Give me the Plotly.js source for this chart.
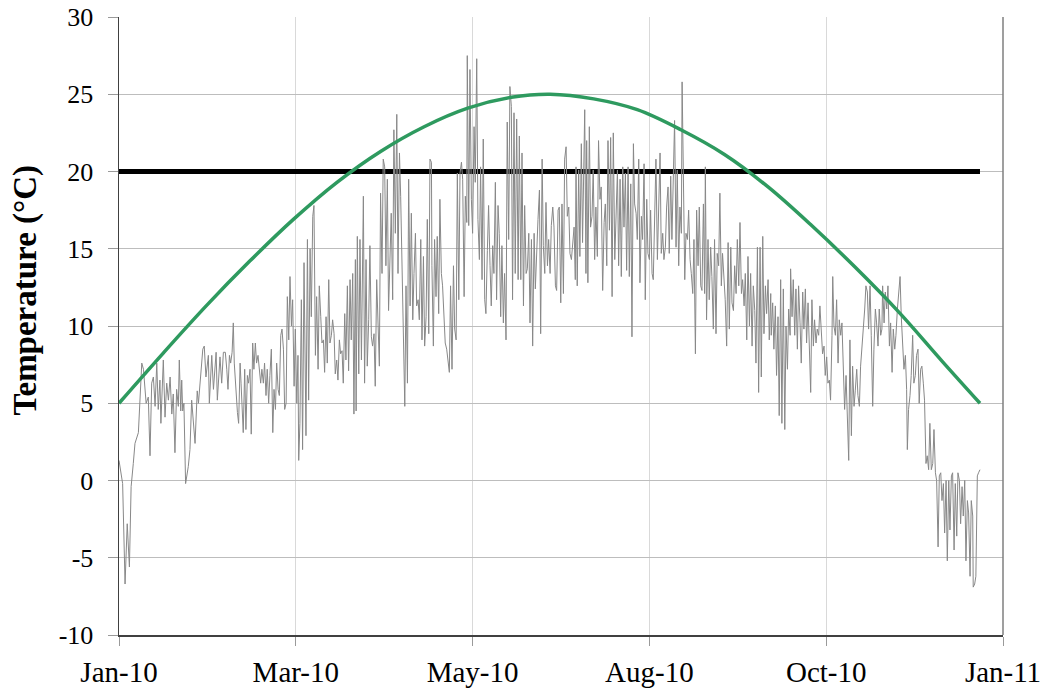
<!DOCTYPE html>
<html>
<head>
<meta charset="utf-8">
<script src="https://cdn.plot.ly/plotly-3.0.1.min.js"></script>
<style>
  html, body { margin: 0; padding: 0; background: #fff; }
  #chart { width: 1044px; height: 693px; }
</style>
</head>
<body>
<div id="chart"></div>
<script>
// Measured air temperature, 2010 (day of year, °C)
const dayOfYear = [
  0.0,1.5,2.5,3.4,4.3,5.0,5.9,6.6,8.0,9.4,10.1,11.2,12.1,12.8,13.5,14.2,14.9,15.6,16.2,16.9,17.3,18.3,19.0,19.7,20.4,21.1,21.8,22.4,23.1,23.8,24.5,24.9,25.5,25.9,26.3,26.8,27.5,28.6,29.3,30.0,31.4,32.3,32.8,33.4,34.6,35.2,35.9,36.9,37.3,38.3,39.0,40.1,40.6,41.7,42.4,43.1,
  43.9,44.5,45.0,45.6,46.1,46.7,47.2,47.6,48.3,48.9,49.4,50.0,50.4,50.8,51.3,51.9,52.4,53.0,53.5,54.1,54.6,55.2,55.7,56.3,56.8,57.4,57.9,58.5,59.0,59.6,60.1,60.7,61.2,61.8,62.3,62.9,63.5,64.0,64.6,65.1,65.7,66.2,66.8,67.3,67.9,68.4,69.0,69.5,70.1,70.6,71.2,71.7,72.3,72.8,73.4,73.9,74.2,74.7,75.3,75.8,76.4,76.9,77.2,77.8,78.3,78.9,79.4,80.0,80.5,81.1,81.6,82.2,82.7,83.3,83.8,84.4,84.9,85.5,86.0,86.6,87.1,87.7,
  88.2,88.8,89.3,89.9,90.4,91.0,91.5,92.1,92.6,93.2,93.7,94.3,94.8,95.4,95.9,96.5,97.0,97.6,97.9,98.4,99.0,99.5,100.1,100.9,101.4,102.0,102.5,103.1,103.6,104.2,104.7,105.3,105.8,106.4,106.9,107.5,108.0,108.6,109.1,109.7,110.2,110.8,111.3,111.9,112.4,113.0,113.5,114.1,114.7,115.2,115.8,116.3,116.9,117.4,118.0,118.5,119.1,119.6,120.2,120.7,121.3,121.8,122.4,122.9,123.5,124.0,124.6,125.1,125.7,126.2,126.8,127.3,127.9,128.4,129.0,129.2,129.8,130.3,130.9,131.4,132.0,132.5,133.1,
  133.6,134.2,134.7,135.3,135.8,136.4,136.9,137.5,138.1,138.6,139.2,139.7,140.3,140.8,141.4,141.9,142.5,143.0,143.6,143.8,144.4,144.9,145.5,146.0,146.6,147.1,147.7,148.2,148.8,149.3,149.9,150.4,151.0,151.5,152.1,152.6,153.2,153.7,154.3,154.8,155.4,155.9,156.5,157.0,157.6,158.1,158.7,159.2,159.8,160.3,160.9,161.4,162.0,162.5,163.1,163.6,164.2,164.8,165.3,165.9,166.4,167.0,167.5,168.1,168.6,169.2,169.7,170.3,170.8,171.4,171.9,172.5,173.0,173.6,174.1,174.7,175.2,175.8,176.3,176.9,177.4,178.0,178.5,
  179.1,179.6,180.2,180.7,181.3,181.8,182.4,182.9,183.5,184.0,184.6,185.1,185.7,186.2,186.8,187.3,187.9,188.4,188.7,189.2,189.8,190.3,190.9,191.4,192.0,192.3,192.8,193.1,193.6,194.2,194.7,195.3,195.8,196.4,196.9,197.5,198.0,198.6,199.1,199.7,200.3,200.8,201.4,201.9,202.5,203.0,203.6,204.1,204.7,205.2,205.8,206.3,206.9,207.4,208.0,208.5,209.1,209.6,210.2,210.7,211.3,211.8,212.4,212.9,213.5,214.0,214.6,215.1,215.7,216.2,216.8,217.3,217.9,218.4,219.0,219.5,220.1,220.6,221.2,221.7,222.3,222.8,223.4,223.9,
  224.5,225.0,225.6,226.1,226.7,227.2,227.8,228.3,228.9,229.4,230.0,230.5,231.1,231.6,232.2,232.5,233.0,233.6,234.1,234.7,235.2,235.8,236.3,236.9,237.4,238.0,238.5,239.1,239.6,240.2,240.7,241.3,241.8,242.1,242.6,243.2,243.7,244.3,244.8,245.4,245.9,246.5,247.0,247.6,248.1,248.7,249.2,249.8,250.3,250.9,251.5,252.0,252.6,253.1,253.7,254.2,254.8,255.3,255.9,256.4,257.0,257.5,258.1,258.6,259.2,259.7,260.3,260.8,261.4,261.9,262.5,263.0,263.6,264.1,264.7,265.2,265.8,266.3,266.9,267.4,268.0,268.5,269.1,
  269.3,269.9,270.4,271.0,271.5,272.1,272.6,273.2,273.7,274.3,274.9,275.4,276.0,276.5,277.1,277.3,277.9,278.4,279.0,279.5,280.1,280.6,281.2,281.7,282.3,282.8,283.4,283.9,284.5,285.0,285.6,286.1,286.7,287.2,287.8,288.3,288.9,289.4,290.0,290.5,291.1,291.6,292.2,292.7,293.3,293.8,294.4,294.7,295.2,295.8,296.3,296.9,297.4,298.0,298.5,299.1,299.6,300.2,300.7,301.3,301.8,302.4,302.9,303.5,304.0,304.6,305.1,305.7,306.2,306.8,307.3,307.9,308.4,309.0,309.5,310.1,310.6,311.2,311.7,312.3,312.8,313.4,313.9,314.5,315.0,
  315.3,315.9,316.4,317.0,317.5,318.1,318.6,319.2,319.7,320.3,320.8,321.4,321.9,322.5,323.0,323.6,324.1,324.7,325.2,325.5,326.0,326.6,327.1,327.7,328.2,328.8,329.3,329.9,330.4,331.0,331.5,332.1,332.6,333.2,333.7,334.3,334.8,335.4,336.0,336.5,337.1,337.6,338.2,338.7,339.3,339.8,340.4,340.9,341.5,342.0,342.6,343.1,343.7,344.2,344.8,345.3,345.9,346.4,347.0,347.5,348.1,348.6,349.2,349.7,350.3,350.8,351.4,351.9,352.5,352.7,353.3,353.8,354.4,354.9,355.5
];
const airTemp = [
  1.3,-0.2,-6.7,-2.8,-5.6,-0.4,1.1,2.4,3.1,7.6,7.2,5.0,5.4,1.6,6.3,6.7,4.8,7.6,4.6,6.5,3.7,7.8,4.1,6.3,5.2,6.7,4.3,5.6,1.8,5.9,4.8,7.8,4.5,6.5,4.5,5.0,-0.2,0.9,2.0,5.2,2.4,5.8,5.0,6.3,8.5,8.7,6.7,8.1,5.0,8.1,5.9,8.3,5.2,8.0,6.3,8.3,
  8.3,7.2,5.9,8.1,7.6,8.3,10.2,7.6,5.5,4.4,3.7,7.6,6.3,4.6,3.1,7.2,3.3,6.8,6.3,7.2,3.0,8.9,7.2,8.9,7.6,8.1,7.4,6.3,7.2,6.3,7.6,5.5,7.2,5.0,6.8,8.5,3.1,5.9,4.6,7.6,5.9,5.5,9.4,9.8,8.5,4.6,5.0,11.9,9.1,13.2,10.0,11.7,6.1,9.8,5.0,8.1,1.3,3.7,11.7,2.0,14.1,6.3,2.9,15.6,5.2,15.0,10.6,17.1,17.8,8.1,11.9,7.2,12.6,10.6,8.9,9.1,7.0,10.6,7.6,13.0,8.9,9.4,
  10.4,9.5,6.9,7.8,6.5,9.1,8.2,8.4,6.3,10.8,7.8,12.6,7.1,13.0,9.1,13.4,4.3,14.3,4.5,15.8,6.9,15.6,7.8,18.4,6.3,14.3,7.4,10.4,15.2,9.3,8.7,9.5,6.1,13.0,10.4,7.4,18.6,13.4,20.8,20.3,13.9,19.5,11.0,13.9,17.3,11.7,22.7,16.0,23.7,13.4,21.2,18.4,13.6,7.4,4.8,12.6,6.3,19.5,11.3,17.3,10.4,13.4,16.0,11.3,11.7,10.4,15.6,9.1,14.5,8.7,10.6,16.9,9.5,20.8,20.6,13.9,8.7,15.6,11.9,15.8,10.8,18.2,13.4,
  12.6,10.8,8.9,8.5,7.8,7.0,12.6,7.2,13.9,9.8,9.1,19.9,11.7,19.9,20.6,19.5,11.9,18.4,16.7,27.5,16.5,26.6,18.2,16.0,22.9,19.3,27.3,16.9,14.3,20.3,13.0,22.1,11.7,10.8,14.9,17.8,13.9,11.3,15.2,13.4,19.3,11.7,17.8,16.0,10.6,15.2,10.2,13.4,9.1,23.2,15.6,25.5,24.2,11.7,23.8,13.4,23.4,13.0,22.3,13.0,21.2,11.3,17.8,13.4,13.7,16.0,10.2,15.6,8.7,16.0,12.4,15.6,16.9,18.8,9.5,20.8,15.2,13.4,18.0,13.9,15.6,13.4,16.5,
  17.7,16.4,12.6,12.3,17.5,17.7,11.5,17.9,12.1,20.8,21.6,17.1,17.7,14.7,14.3,15.6,16.4,13.0,20.3,12.6,20.1,14.5,21.8,15.4,20.1,24.0,13.4,22.0,12.8,22.9,16.4,17.1,20.1,14.3,17.7,14.5,22.0,18.2,19.0,12.3,16.7,17.9,13.9,22.0,16.2,22.2,11.9,22.5,14.3,17.1,20.1,13.9,19.5,13.2,20.3,16.4,19.9,13.6,20.3,13.2,19.2,9.3,21.8,17.9,17.3,15.6,20.8,12.8,17.1,15.6,20.5,11.7,18.2,14.7,14.3,17.5,13.4,13.0,17.7,20.8,14.3,18.6,21.2,14.7,
  16.0,14.3,15.1,17.7,19.0,14.7,19.7,15.6,19.5,23.3,15.1,20.1,13.9,17.7,16.0,25.8,20.1,13.0,16.0,15.6,17.5,14.3,13.4,12.1,15.6,8.2,17.5,13.9,17.7,12.6,12.3,17.9,12.1,20.3,10.4,15.6,11.7,15.1,13.2,9.8,15.6,9.5,14.7,13.9,18.6,12.6,14.7,13.4,11.7,8.7,15.4,9.8,15.1,11.5,11.0,13.9,12.1,15.6,12.6,16.7,12.1,13.0,11.3,13.4,9.1,14.5,10.0,13.4,8.7,12.6,11.0,7.6,15.1,5.7,15.1,6.7,15.8,9.5,12.6,10.8,13.0,9.1,12.1,
  9.4,11.5,8.5,11.3,6.8,10.6,4.2,13.0,3.7,12.4,3.3,10.0,7.2,11.1,9.4,13.7,10.6,13.0,9.4,12.4,8.5,12.6,10.2,7.6,12.2,9.8,12.4,8.9,11.5,8.5,5.7,11.7,8.7,10.4,8.9,9.8,9.4,11.3,9.8,8.2,8.7,6.8,8.0,6.3,6.5,5.2,9.4,13.2,10.0,9.4,11.7,7.6,10.4,9.4,10.2,7.4,4.6,6.8,4.2,1.3,9.1,2.9,7.4,4.8,5.8,7.2,5.5,4.8,7.4,8.7,9.4,11.1,12.6,12.2,9.8,12.6,9.4,4.8,8.5,11.1,10.2,8.7,11.1,9.4,9.8,
  12.6,10.2,12.2,11.1,12.6,8.7,10.2,7.0,9.8,8.5,9.4,11.1,11.9,13.2,10.6,8.5,7.2,8.1,5.9,2.0,4.6,5.5,6.8,9.4,6.3,6.8,8.1,8.5,5.0,7.2,7.4,6.3,5.2,1.1,1.6,0.7,3.7,0.7,1.1,3.3,0.5,0.0,-4.3,0.3,0.5,-1.3,-0.2,-3.4,0.0,-5.2,0.0,-3.2,0.3,0.5,-4.5,-0.2,-3.6,0.5,0.0,-2.8,-0.4,-2.3,0.0,-5.2,-1.3,-2.1,-6.2,-1.3,-2.3,-6.9,-6.7,-6.2,0.3,0.5,0.7
];

// Seasonal reference curve (°C)
const curveDays = [0, 18, 36, 54, 72, 90, 108, 126, 144, 162, 178, 196, 214, 232, 250, 268, 286, 304, 322, 340, 355.5];
const curveTemp = [5.0, 8.2, 11.3, 14.2, 16.9, 19.3, 21.3, 22.9, 24.1, 24.8, 25.0, 24.7, 24.0, 22.7, 21.1, 19.0, 16.5, 13.8, 10.9, 7.7, 5.0];

// Constant set point (°C)
const setpointDays = [0, 355.5];
const setpointTemp = [20, 20];

// Axis ticks
const tickDays = [0, 73, 146, 219, 292, 365];
const tickLabels = ['Jan-10', 'Mar-10', 'May-10', 'Aug-10', 'Oct-10', 'Jan-11'];
const tempTicks = [-10, -5, 0, 5, 10, 15, 20, 25, 30];
const tempLabels = ['-10', '-5', '0', '5', '10', '15', '20', '25', '30'];

const serif = '"Liberation Serif", "Times New Roman", Times, serif';

const traces = [
  {
    x: setpointDays, y: setpointTemp, type: 'scatter', mode: 'lines',
    line: { color: '#000000', width: 5 }, hoverinfo: 'skip'
  },
  {
    x: dayOfYear, y: airTemp, type: 'scatter', mode: 'lines',
    line: { color: '#888888', width: 1 }
  },
  {
    x: curveDays, y: curveTemp, type: 'scatter', mode: 'lines',
    line: { color: '#2e9a5f', width: 3.5, shape: 'spline', smoothing: 1 }
  }
];

const layout = {
  width: 1044, height: 693,
  margin: { l: 119, r: 41, t: 17, b: 58 },
  paper_bgcolor: '#ffffff', plot_bgcolor: '#ffffff',
  showlegend: false,
  font: { family: serif, color: '#000000' },
  xaxis: {
    range: [0, 365], tickmode: 'array', tickvals: tickDays, ticktext: tickLabels,
    tickfont: { family: serif, size: 29, color: '#000000' },
    ticks: 'outside', ticklen: 9, tickcolor: '#9a9a9a', tickwidth: 1,
    ticklabelstandoff: 1,
    showgrid: true, gridcolor: '#d9d9d9', gridwidth: 1,
    showline: true, linecolor: '#404040', linewidth: 2,
    zeroline: false, automargin: false
  },
  yaxis: {
    range: [-10, 30], tickmode: 'array', tickvals: tempTicks, ticktext: tempLabels,
    tickfont: { family: serif, size: 26, color: '#000000' },
    ticks: 'outside', ticklen: 10, tickcolor: '#9a9a9a', tickwidth: 1,
    ticklabelstandoff: 9,
    showgrid: true, gridcolor: '#bdbdbd', gridwidth: 1,
    showline: true, linecolor: '#404040', linewidth: 1.5,
    zeroline: false, automargin: false
  },
  shapes: [
    { type: 'line', xref: 'paper', yref: 'paper', x0: 1, x1: 1, y0: 0, y1: 1,
      line: { color: '#7f7f7f', width: 1.5 } }
  ],
  annotations: [
    { text: '<b>Temperature (°C)</b>', textangle: -90, showarrow: false,
      xref: 'paper', yref: 'paper', x: -0.1063, y: 0.5575,
      xanchor: 'center', yanchor: 'middle',
      font: { family: serif, size: 33, color: '#000000' } }
  ]
};

Plotly.newPlot('chart', traces, layout, { displayModeBar: false, staticPlot: true });
</script>
</body>
</html>
